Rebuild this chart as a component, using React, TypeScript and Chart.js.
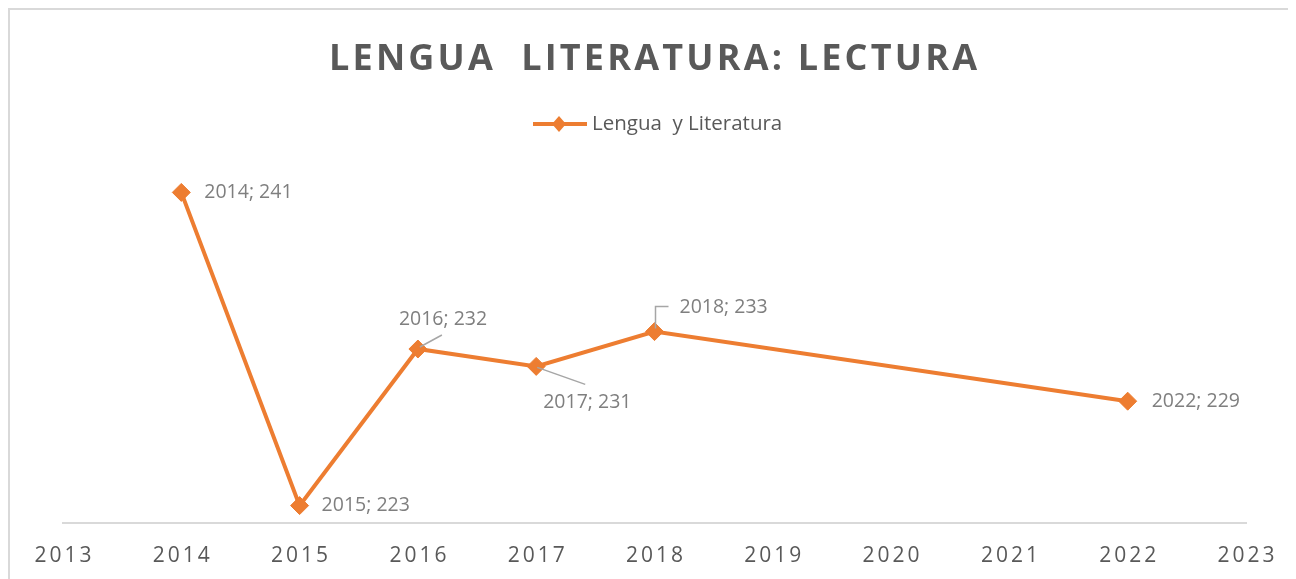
import React, { useEffect, useRef } from "react";
import { Chart, registerables } from "chart.js";

Chart.register(...registerables);

// ---- data ----
const years = [2014, 2015, 2016, 2017, 2018, 2022];
const scores = [241, 223, 232, 231, 233, 229];
const xTickValues = [2013, 2014, 2015, 2016, 2017, 2018, 2019, 2020, 2021, 2022, 2023];
const chartTitle = "LENGUA  LITERATURA: LECTURA";
const seriesName = "Lengua  y Literatura";

// ---- label placement (relative to each point) ----
type Placement = { dx: number; dy: number; leader: [number, number][] | null };
const labelPlacement: Placement[] = [
  { dx: 23, dy: 0, leader: null },
  { dx: 22, dy: 0, leader: null },
  { dx: -19, dy: -30, leader: [[2, -2], [24, -14]] },
  { dx: 7, dy: 36, leader: [[1, 1], [49, 18]] },
  { dx: 25, dy: -24, leader: [[1, -3], [1, -25], [14, -25]] },
  { dx: 24, dy: 0, leader: null },
];

const FONT = '"Open Sans", sans-serif';
const ORANGE = "#ED7D31";
const DARK = "#595959";
const LABEL_GRAY = "#7f7f7f";
const LEADER_GRAY = "#a6a6a6";
const W = 1288;
const H = 571;

function spacedText(ctx: CanvasRenderingContext2D, text: string, cx: number, y: number, spacing: number) {
  ctx.save();
  (ctx as any).letterSpacing = spacing + "px";
  const w = ctx.measureText(text).width - spacing;
  ctx.textAlign = "left";
  ctx.fillText(text, cx - w / 2, y);
  ctx.restore();
}

const decorPlugin = {
  id: "decor",
  beforeDraw(chart: any) {
    const ctx: CanvasRenderingContext2D = chart.ctx;
    ctx.save();
    ctx.fillStyle = "#ffffff";
    ctx.fillRect(0, 0, W, H);
    ctx.fillStyle = "#d9d9d9";
    ctx.fillRect(0, 0, W, 2);
    ctx.fillRect(0, 0, 2, H);
    ctx.restore();
  },
  afterDatasetsDraw(chart: any) {
    const ctx: CanvasRenderingContext2D = chart.ctx;
    const meta = chart.getDatasetMeta(0);
    ctx.save();
    meta.data.forEach((pt: any, i: number) => {
      const p = labelPlacement[i];
      const px = pt.x;
      const py = pt.y;
      if (p.leader) {
        ctx.strokeStyle = LEADER_GRAY;
        ctx.lineWidth = 1.5;
        ctx.beginPath();
        p.leader.forEach(([lx, ly], k) => {
          if (k === 0) ctx.moveTo(px + lx, py + ly);
          else ctx.lineTo(px + lx, py + ly);
        });
        ctx.stroke();
      }
      ctx.fillStyle = LABEL_GRAY;
      ctx.font = `19.5px ${FONT}`;
      ctx.textAlign = "left";
      ctx.textBaseline = "middle";
      ctx.fillText(`${years[i]}; ${scores[i]}`, px + p.dx, py + p.dy);
    });
    ctx.restore();
  },
  afterDraw(chart: any) {
    const ctx: CanvasRenderingContext2D = chart.ctx;
    const xs = chart.scales.x;
    ctx.save();
    // title
    ctx.fillStyle = DARK;
    ctx.textBaseline = "alphabetic";
    ctx.font = `bold 36px ${FONT}`;
    spacedText(ctx, chartTitle, W / 2 + 1, 62, 3.2);
    // legend
    ctx.strokeStyle = ORANGE;
    ctx.lineWidth = 4;
    ctx.beginPath();
    ctx.moveTo(525, 116);
    ctx.lineTo(579, 116);
    ctx.stroke();
    ctx.fillStyle = ORANGE;
    ctx.beginPath();
    ctx.moveTo(551, 108);
    ctx.lineTo(558, 116);
    ctx.lineTo(551, 124);
    ctx.lineTo(544, 116);
    ctx.closePath();
    ctx.fill();
    ctx.fillStyle = DARK;
    ctx.font = `20.5px ${FONT}`;
    ctx.textAlign = "left";
    ctx.fillText(seriesName, 584, 122);
    // x tick labels
    ctx.font = `21px ${FONT}`;
    ctx.fillStyle = DARK;
    xTickValues.forEach((v) => {
      spacedText(ctx, String(v), xs.getPixelForValue(v), 553.5, 3);
    });
    ctx.restore();
  },
};

export default function App() {
  const ref = useRef<HTMLCanvasElement | null>(null);
  useEffect(() => {
    if (!ref.current) return;
    const chart = new Chart(ref.current, {
      type: "line",
      data: {
        datasets: [
          {
            label: seriesName,
            data: years.map((y, i) => ({ x: y, y: scores[i] })),
            borderColor: ORANGE,
            backgroundColor: ORANGE,
            borderWidth: 4,
            pointStyle: "rectRot",
            pointRadius: 9,
            pointBorderWidth: 1,
            pointBackgroundColor: ORANGE,
            pointBorderColor: ORANGE,
            tension: 0,
          },
        ],
      },
      options: {
        responsive: false,
        animation: false,
        events: [],
        layout: { padding: { top: 167, left: 55, right: 50, bottom: 0 } },
        plugins: {
          legend: { display: false },
          title: { display: false },
          tooltip: { enabled: false },
        },
        scales: {
          x: {
            type: "linear",
            min: 2013,
            max: 2023,
            ticks: { display: false, stepSize: 1 },
            grid: { display: false },
            border: { display: true, color: "#d9d9d9", width: 2 },
            afterFit: (s: any) => {
              s.height = 56;
            },
          },
          y: {
            display: false,
            min: 222,
            max: 242,
          },
        },
      },
      plugins: [decorPlugin],
    });
    return () => chart.destroy();
  }, []);
  return <canvas ref={ref} width={W} height={H} style={{ display: "block" }} />;
}
